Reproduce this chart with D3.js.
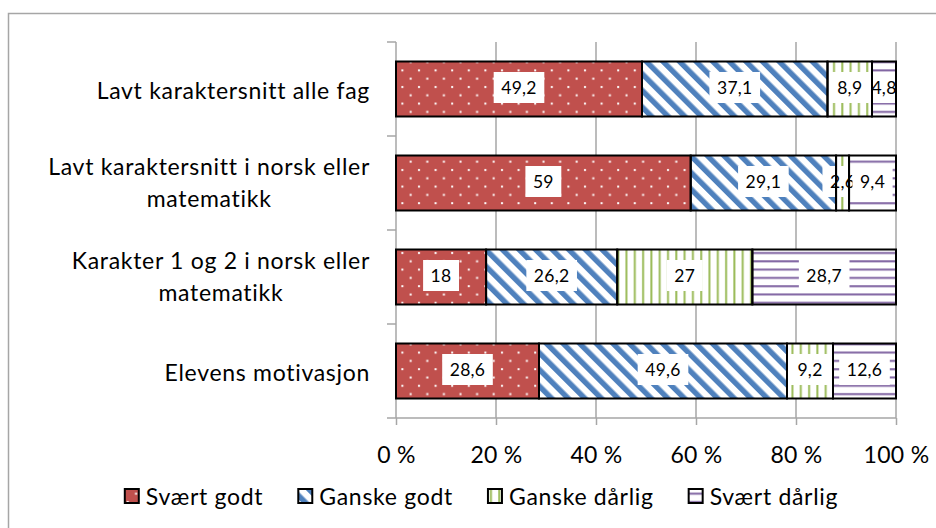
<!DOCTYPE html>
<html><head><meta charset="utf-8">
<script src="https://cdn.jsdelivr.net/npm/d3@7"></script>
<style>body{margin:0;background:#fff}</style>
</head><body>
<svg id="c" width="936" height="528"></svg>
<script>
// ---------- data ----------
const categories = ["Lavt karaktersnitt alle fag", "Lavt karaktersnitt i norsk eller matematikk", "Karakter 1 og 2 i norsk eller matematikk", "Elevens motivasjon"];
const categoryLines = [["Lavt karaktersnitt alle fag"], ["Lavt karaktersnitt i norsk eller", "matematikk"], ["Karakter 1 og 2 i norsk eller", "matematikk"], ["Elevens motivasjon"]];
const seriesNames = ["Svært godt", "Ganske godt", "Ganske dårlig", "Svært dårlig"];
const svaertGodt = [49.2, 59, 18, 28.6];
const ganskeGodt = [37.1, 29.1, 26.2, 49.6];
const ganskeDarlig = [8.9, 2.6, 27, 9.2];
const svaertDarlig = [4.8, 9.4, 28.7, 12.6];
const xTicks = [0, 0.2, 0.4, 0.6, 0.8, 1];
const xTickLabels = ["0 %", "20 %", "40 %", "60 %", "80 %", "100 %"];

const seriesValues = [svaertGodt, ganskeGodt, ganskeDarlig, svaertDarlig];
const colors = ["#C0504D", "#4F81BD", "#9BBB59", "#8064A2"];
const FONT = "Lato, 'Open Sans', sans-serif";

const svg = d3.select("#c");
const defs = svg.append("defs");

// patterns
const p0 = defs.append("pattern").attr("id", "pat0").attr("patternUnits", "userSpaceOnUse")
  .attr("width", 16.6).attr("height", 16.6);
p0.append("rect").attr("width", 16.6).attr("height", 16.6).attr("fill", colors[0]);
p0.append("rect").attr("x", 3).attr("y", 3).attr("width", 2).attr("height", 2).attr("fill", "#fff");
p0.append("rect").attr("x", 11.3).attr("y", 11.3).attr("width", 2).attr("height", 2).attr("fill", "#fff");

const p1 = defs.append("pattern").attr("id", "pat1").attr("patternUnits", "userSpaceOnUse")
  .attr("width", 11.74).attr("height", 11.74).attr("patternTransform", "rotate(-45)");
p1.append("rect").attr("width", 11.74).attr("height", 11.74).attr("fill", "#fff");
p1.append("rect").attr("x", 0).attr("width", 5.4).attr("height", 11.74).attr("fill", colors[1]);

const p2 = defs.append("pattern").attr("id", "pat2").attr("patternUnits", "userSpaceOnUse")
  .attr("width", 8.3).attr("height", 8.3);
p2.append("rect").attr("width", 8.3).attr("height", 8.3).attr("fill", "#fff");
p2.append("rect").attr("x", 3).attr("width", 2).attr("height", 8.3).attr("fill", colors[2]);

const p3 = defs.append("pattern").attr("id", "pat3").attr("patternUnits", "userSpaceOnUse")
  .attr("width", 8.3).attr("height", 8.3);
p3.append("rect").attr("width", 8.3).attr("height", 8.3).attr("fill", "#fff");
p3.append("rect").attr("y", 3).attr("width", 8.3).attr("height", 2).attr("fill", colors[3]);

// outer frame
svg.append("rect").attr("x", 8.5).attr("y", 13.5).attr("width", 960).attr("height", 560)
  .attr("fill", "none").attr("stroke", "#a6a6a6").attr("stroke-width", 1.5);

// scales
const L = 396, R = 896, T = 42, B = 418;
const x = d3.scaleLinear().domain([0, 1]).range([L, R]);
const y = d3.scaleBand().domain(categories).range([T, B]).paddingInner(0.415).paddingOuter(0.2075);
const step = y.step();

// gridlines
const grid = svg.append("g");
grid.selectAll("line").data(xTicks.slice(1)).join("line")
  .attr("x1", d => x(d)).attr("x2", d => x(d)).attr("y1", T).attr("y2", B)
  .attr("stroke", "#a6a6a6").attr("stroke-width", 1.5);

// x axis
const xAxis = svg.append("g").attr("transform", `translate(0,${B})`)
  .call(d3.axisBottom(x).tickValues(xTicks).tickSize(7).tickFormat((d, i) => xTickLabels[i]));
xAxis.select(".domain").attr("stroke", "#a6a6a6").attr("stroke-width", 1.5).attr("d", `M${L},0H${R}`);
xAxis.selectAll(".tick line").attr("stroke", "#a6a6a6").attr("stroke-width", 1.5);
xAxis.selectAll(".tick text").attr("y", 44.5).attr("dy", 0).attr("fill", "#000")
  .style("font-family", FONT).style("font-size", "23px").style("letter-spacing", "0.3px");

// y axis line + ticks at band boundaries
const bounds = d3.range(categories.length + 1).map(i => T + i * step);
svg.append("line").attr("x1", L).attr("x2", L).attr("y1", T).attr("y2", B)
  .attr("stroke", "#a6a6a6").attr("stroke-width", 1.5);
svg.append("g").selectAll("line").data(bounds).join("line")
  .attr("x1", L - 9).attr("x2", L).attr("y1", d => d).attr("y2", d => d)
  .attr("stroke", "#a6a6a6").attr("stroke-width", 1.5);

// category labels
const catG = svg.append("g").style("font-family", FONT).style("font-size", "23px")
  .style("letter-spacing", "0.7px").attr("fill", "#000");
categories.forEach((c, i) => {
  const lines = categoryLines[i];
  const cy = y(c) + y.bandwidth() / 2;
  const g = catG.append("g");
  const lh = 31.5;
  const base0 = lines.length === 1 ? cy + 9.5 : cy - 8;
  const ts = lines.map((ln, j) => g.append("text").attr("y", base0 + j * lh).attr("text-anchor", "middle").text(ln));
  const maxW = d3.max(ts, t => t.node().getComputedTextLength());
  ts.forEach(t => t.attr("x", 370 - maxW / 2));
});

// stacked data (100 % normalized)
const rows = categories.map((c, i) => {
  const vals = seriesValues.map(s => s[i]);
  const sum = d3.sum(vals);
  let acc = 0;
  return vals.map((v, k) => { const s0 = acc / sum; acc += v; return { cat: c, k, v, x0: s0, x1: acc / sum }; });
});
const segs = rows.flat();

const barG = svg.append("g");
barG.selectAll("rect").data(segs).join("rect")
  .attr("x", d => x(d.x0)).attr("width", d => x(d.x1) - x(d.x0))
  .attr("y", d => y(d.cat)).attr("height", y.bandwidth())
  .attr("fill", d => `url(#pat${d.k})`);

// data labels
const fmt = v => String(v).replace(".", ",");
const labG = svg.append("g").style("font-family", FONT).style("font-size", "17.5px").style("letter-spacing", "0.3px");
segs.forEach(d => {
  const cx = (x(d.x0) + x(d.x1)) / 2;
  const cy = y(d.cat) + y.bandwidth() / 2 - 1.5;
  const g = labG.append("g");
  const r = g.append("rect").attr("fill", "#fff");
  const t = g.append("text").attr("x", cx).attr("y", cy + 6).attr("text-anchor", "middle").attr("fill", "#000").text(fmt(d.v));
  const w = t.node().getComputedTextLength() + 15;
  r.attr("x", cx - w / 2).attr("y", cy - 15.5).attr("width", w).attr("height", 31);
});

// outlines on top
svg.append("g").selectAll("rect").data(segs).join("rect")
  .attr("x", d => x(d.x0)).attr("width", d => x(d.x1) - x(d.x0))
  .attr("y", d => y(d.cat)).attr("height", y.bandwidth())
  .attr("fill", "none").attr("stroke", "#000").attr("stroke-width", 2);

// legend
const legG = svg.append("g").style("font-family", FONT).style("font-size", "23px").style("letter-spacing", "0.7px");
let lx = 0;
seriesNames.forEach((n, k) => {
  const g = legG.append("g").attr("transform", `translate(${lx},0)`);
  g.append("rect").attr("x", 1).attr("y", 489).attr("width", 14).attr("height", 14)
    .attr("fill", `url(#pat${k})`).attr("stroke", "#000").attr("stroke-width", 2);
  const t = g.append("text").attr("x", 22).attr("y", 505).attr("fill", "#000").text(n);
  const w = 22 + t.node().getComputedTextLength();
  lx += w + 34;
});
const total = lx - 34;
legG.attr("transform", `translate(${481 - total / 2},0)`);
</script>
</body></html>
